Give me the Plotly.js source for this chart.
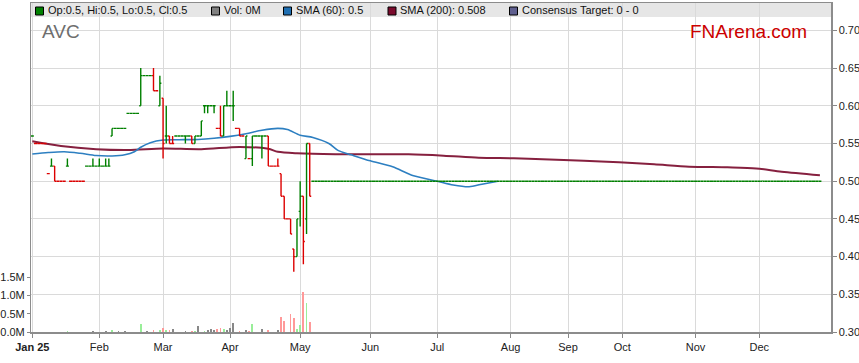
<!DOCTYPE html>
<html><head><meta charset="utf-8">
<script src="https://cdn.plot.ly/plotly-3.0.1.min.js"></script>
<style>html,body{margin:0;padding:0;background:#fff}#chart{width:859px;height:363px}</style>
</head><body><div id="chart"></div>
<script>
// ---- traded period (Jan 3 - May 6 2025) ----
const tradeDates = [
'2025-01-03','2025-01-06','2025-01-07','2025-01-08','2025-01-09','2025-01-10','2025-01-13','2025-01-14','2025-01-15','2025-01-16','2025-01-17',
'2025-01-20','2025-01-21','2025-01-22','2025-01-23','2025-01-24','2025-01-27','2025-01-28','2025-01-29','2025-01-30','2025-01-31',
'2025-02-03','2025-02-04','2025-02-05','2025-02-06','2025-02-07','2025-02-10','2025-02-11','2025-02-12','2025-02-13','2025-02-14',
'2025-02-17','2025-02-18','2025-02-19','2025-02-20','2025-02-21','2025-02-24','2025-02-25','2025-02-26','2025-02-27','2025-02-28',
'2025-03-03','2025-03-04','2025-03-05','2025-03-06','2025-03-07','2025-03-10','2025-03-11','2025-03-12','2025-03-13','2025-03-14',
'2025-03-17','2025-03-18','2025-03-19','2025-03-20','2025-03-21','2025-03-24','2025-03-25','2025-03-26','2025-03-27','2025-03-28',
'2025-03-31','2025-04-01','2025-04-02','2025-04-03','2025-04-04','2025-04-07','2025-04-08','2025-04-09','2025-04-10','2025-04-11',
'2025-04-14','2025-04-15','2025-04-16','2025-04-17','2025-04-18','2025-04-21','2025-04-22','2025-04-23','2025-04-24','2025-04-25',
'2025-04-28','2025-04-29','2025-04-30','2025-05-01','2025-05-02','2025-05-05','2025-05-06'];
const openP = [
0.56,0.55,0.55,0.55,0.55,0.51,0.52,0.52,0.50,0.50,0.50,
0.52,0.50,0.50,0.50,0.50,0.50,0.52,0.52,0.52,0.52,
0.52,0.52,0.52,0.52,0.56,0.57,0.57,0.57,0.57,0.59,
0.59,0.59,0.59,0.60,0.64,0.64,0.64,0.64,0.62,0.60,
0.61,0.56,0.56,0.55,0.56,0.56,0.56,0.56,0.56,0.56,
0.55,0.56,0.56,0.60,0.60,0.60,0.60,0.57,0.57,0.56,
0.60,0.60,0.60,0.57,0.57,0.56,0.53,0.53,0.53,0.56,
0.56,0.56,0.56,0.56,0.52,0.52,0.52,0.51,0.48,0.45,
0.45,0.41,0.40,0.46,0.48,0.45,0.55];
const highP = [
0.56,0.55,0.55,0.55,0.55,0.51,0.53,0.52,0.50,0.50,0.50,
0.53,0.50,0.50,0.50,0.50,0.50,0.52,0.52,0.53,0.52,
0.53,0.52,0.53,0.53,0.57,0.57,0.57,0.57,0.57,0.59,
0.59,0.59,0.59,0.65,0.64,0.64,0.64,0.65,0.62,0.64,
0.61,0.60,0.56,0.56,0.56,0.56,0.56,0.56,0.56,0.56,
0.56,0.56,0.58,0.60,0.60,0.60,0.60,0.57,0.60,0.60,
0.62,0.60,0.62,0.57,0.57,0.56,0.56,0.53,0.56,0.56,
0.56,0.56,0.56,0.56,0.52,0.52,0.53,0.51,0.48,0.45,
0.45,0.41,0.45,0.50,0.48,0.55,0.55];
const lowP = [
0.56,0.55,0.55,0.55,0.55,0.51,0.52,0.50,0.50,0.50,0.50,
0.52,0.50,0.50,0.50,0.50,0.50,0.52,0.52,0.52,0.52,
0.52,0.52,0.52,0.52,0.56,0.57,0.57,0.57,0.57,0.59,
0.59,0.59,0.59,0.60,0.64,0.64,0.64,0.62,0.62,0.60,
0.53,0.55,0.55,0.55,0.56,0.56,0.56,0.55,0.56,0.55,
0.55,0.56,0.56,0.59,0.59,0.60,0.59,0.57,0.56,0.56,
0.60,0.60,0.58,0.57,0.56,0.56,0.53,0.53,0.52,0.56,
0.56,0.53,0.56,0.52,0.52,0.52,0.52,0.48,0.45,0.45,
0.43,0.38,0.40,0.44,0.39,0.43,0.48];
const closeP = [
0.56,0.55,0.55,0.55,0.55,0.51,0.52,0.50,0.50,0.50,0.50,
0.52,0.50,0.50,0.50,0.50,0.50,0.52,0.52,0.52,0.52,
0.52,0.52,0.52,0.52,0.57,0.57,0.57,0.57,0.57,0.59,
0.59,0.59,0.59,0.64,0.64,0.64,0.64,0.62,0.62,0.63,
0.55,0.56,0.55,0.55,0.56,0.56,0.56,0.56,0.56,0.55,
0.56,0.56,0.58,0.60,0.60,0.60,0.60,0.57,0.56,0.60,
0.60,0.60,0.60,0.57,0.56,0.56,0.56,0.53,0.56,0.56,
0.56,0.56,0.56,0.52,0.52,0.52,0.52,0.48,0.45,0.45,
0.43,0.40,0.45,0.48,0.42,0.55,0.48];
const volumeM = [
0,0,0,0,0,0,0,0,0,0,0,
0.02,0,0,0,0,0,0,0,0.03,0,
0,0,0.03,0,0.05,0,0.03,0,0.03,0,
0,0,0,0.22,0,0.03,0,0.06,0,0.06,
0.11,0.06,0.06,0.09,0,0,0,0.03,0,0.03,
0.03,0.17,0,0.03,0.06,0.08,0.06,0.08,0.11,0.08,
0.06,0.11,0.25,0,0.03,0,0.06,0.03,0.22,0,
0,0.08,0,0.06,0,0,0.06,0.40,0.30,0,
0.48,0.38,0.08,0.18,1.10,0.78,0.27];

// ---- no-trade period (price unchanged at 0.50) ----
const flatDates = [
'2025-05-07','2025-05-08','2025-05-09','2025-05-12','2025-05-13','2025-05-14','2025-05-15','2025-05-16','2025-05-19','2025-05-20','2025-05-21','2025-05-22','2025-05-23','2025-05-26','2025-05-27','2025-05-28','2025-05-29','2025-05-30',
'2025-06-02','2025-06-03','2025-06-04','2025-06-05','2025-06-06','2025-06-09','2025-06-10','2025-06-11','2025-06-12','2025-06-13','2025-06-16','2025-06-17','2025-06-18','2025-06-19','2025-06-20','2025-06-23','2025-06-24','2025-06-25','2025-06-26','2025-06-27','2025-06-30',
'2025-07-01','2025-07-02','2025-07-03','2025-07-04','2025-07-07','2025-07-08','2025-07-09','2025-07-10','2025-07-11','2025-07-14','2025-07-15','2025-07-16','2025-07-17','2025-07-18','2025-07-21','2025-07-22','2025-07-23','2025-07-24','2025-07-25','2025-07-28','2025-07-29','2025-07-30','2025-07-31',
'2025-08-01','2025-08-04','2025-08-05','2025-08-06','2025-08-07','2025-08-08','2025-08-11','2025-08-12','2025-08-18','2025-08-19','2025-08-20','2025-08-21','2025-08-22','2025-08-25','2025-08-26','2025-08-27','2025-08-28','2025-08-29',
'2025-09-01','2025-09-02','2025-09-03','2025-09-04','2025-09-05','2025-09-08','2025-09-09','2025-09-10','2025-09-11','2025-09-12','2025-09-22','2025-09-23','2025-09-24','2025-09-25','2025-09-26','2025-09-29','2025-09-30',
'2025-10-01','2025-10-02','2025-10-03','2025-10-06','2025-10-07','2025-10-08','2025-10-09','2025-10-10','2025-10-13','2025-10-14','2025-10-15','2025-10-16','2025-10-17','2025-10-20','2025-10-21','2025-10-22','2025-10-23','2025-10-24','2025-10-27','2025-10-28','2025-10-29','2025-10-30','2025-10-31',
'2025-11-03','2025-11-04','2025-11-05','2025-11-06','2025-11-07','2025-11-10','2025-11-11','2025-11-12','2025-11-13','2025-11-14','2025-11-17','2025-11-18','2025-11-19','2025-11-20','2025-11-21','2025-11-24','2025-11-25','2025-11-26','2025-11-27','2025-11-28',
'2025-12-01','2025-12-02','2025-12-03','2025-12-04','2025-12-05','2025-12-08','2025-12-09','2025-12-10','2025-12-11','2025-12-12','2025-12-15','2025-12-16','2025-12-17','2025-12-18','2025-12-19','2025-12-22','2025-12-23','2025-12-24','2025-12-25','2025-12-26'];
const flatPrice = [
0.5,0.5,0.5,0.5,0.5,0.5,0.5,0.5,0.5,0.5,0.5,0.5,0.5,0.5,0.5,0.5,0.5,0.5,
0.5,0.5,0.5,0.5,0.5,0.5,0.5,0.5,0.5,0.5,0.5,0.5,0.5,0.5,0.5,0.5,0.5,0.5,0.5,0.5,0.5,
0.5,0.5,0.5,0.5,0.5,0.5,0.5,0.5,0.5,0.5,0.5,0.5,0.5,0.5,0.5,0.5,0.5,0.5,0.5,0.5,0.5,0.5,0.5,
0.5,0.5,0.5,0.5,0.5,0.5,0.5,0.5,0.5,0.5,0.5,0.5,0.5,0.5,0.5,0.5,0.5,0.5,
0.5,0.5,0.5,0.5,0.5,0.5,0.5,0.5,0.5,0.5,0.5,0.5,0.5,0.5,0.5,0.5,0.5,
0.5,0.5,0.5,0.5,0.5,0.5,0.5,0.5,0.5,0.5,0.5,0.5,0.5,0.5,0.5,0.5,0.5,0.5,0.5,0.5,0.5,0.5,0.5,
0.5,0.5,0.5,0.5,0.5,0.5,0.5,0.5,0.5,0.5,0.5,0.5,0.5,0.5,0.5,0.5,0.5,0.5,0.5,0.5,
0.5,0.5,0.5,0.5,0.5,0.5,0.5,0.5,0.5,0.5,0.5,0.5,0.5,0.5,0.5,0.5,0.5,0.5,0.5,0.5];

// days absent from the source feed (collapsed on the axis)
const missingDays = ['2025-08-13','2025-08-14','2025-08-15','2025-09-15','2025-09-16','2025-09-17','2025-09-18','2025-09-19'];

// ---- moving averages (SMA60 merges into the 0.50 price line after late July) ----
const sma60Dates = ['2025-01-03','2025-01-10','2025-01-17','2025-01-24','2025-01-31','2025-02-07','2025-02-13','2025-02-18','2025-02-20','2025-02-25','2025-03-03','2025-03-10','2025-03-18','2025-03-25','2025-04-01','2025-04-08','2025-04-15','2025-04-22','2025-04-25','2025-05-01','2025-05-07','2025-05-14','2025-05-19','2025-05-23','2025-06-02','2025-06-11','2025-06-19','2025-07-01','2025-07-08','2025-07-15','2025-07-21','2025-07-28'];
const sma60 = [0.536,0.538,0.539,0.537,0.534,0.5335,0.535,0.539,0.545,0.551,0.5546,0.555,0.5554,0.557,0.5595,0.563,0.5675,0.570,0.5685,0.561,0.558,0.550,0.5405,0.535,0.527,0.519,0.508,0.500,0.495,0.4927,0.496,0.500];
const sma200Dates = ['2025-01-03','2025-01-16','2025-01-31','2025-02-14','2025-03-03','2025-03-19','2025-04-04','2025-04-17','2025-04-22','2025-04-30','2025-05-16','2025-06-18','2025-07-03','2025-07-18','2025-08-04','2025-08-20','2025-09-08','2025-09-30','2025-10-15','2025-10-30','2025-11-17','2025-11-28','2025-12-10','2025-12-26'];
const sma200 = [0.553,0.5467,0.5425,0.5414,0.5433,0.5425,0.5455,0.543,0.539,0.537,0.5357,0.5357,0.5339,0.5312,0.5303,0.529,0.5272,0.525,0.5224,0.5193,0.5184,0.517,0.5126,0.508];

// ---- axis labels ----
const monthTicks = ['2025-01-03','2025-02-03','2025-03-03','2025-04-01','2025-05-01','2025-06-02','2025-07-01','2025-08-01','2025-09-01','2025-10-01','2025-11-03','2025-12-01'];
const monthLabels = ['<b>Jan 25</b>','Feb','Mar','Apr','May','Jun','Jul','Aug','Sep','Oct','Nov','Dec'];
const priceTicks = [0.30,0.35,0.40,0.45,0.50,0.55,0.60,0.65,0.70];
const volTicks = [0,0.5,1.0,1.5];
const volTickText = ['0.0M','0.5M','1.0M','1.5M'];

// ---- build traces ----
const allDates = tradeDates.concat(flatDates);
const allO = openP.concat(flatPrice), allH = highP.concat(flatPrice), allL = lowP.concat(flatPrice), allC = closeP.concat(flatPrice);
const volColors = closeP.map((c,i)=> i===0 ? '#888888' : (c>closeP[i-1] ? '#99ee99' : (c<closeP[i-1] ? '#ff9999' : '#888888')));

const traces = [
  {type:'scatter', mode:'lines', x:sma200Dates, y:sma200, line:{color:'#86203f', width:2, shape:'spline', smoothing:0.8}, hoverinfo:'skip', xaxis:'x', yaxis:'y'},
  {type:'scatter', mode:'lines', x:sma60Dates, y:sma60, line:{color:'#2d7fc1', width:1.6, shape:'spline', smoothing:0.8}, hoverinfo:'skip', xaxis:'x', yaxis:'y'},
  {type:'bar', x:tradeDates, y:volumeM, marker:{color:volColors, line:{width:0}}, width:0.55*86400000, hoverinfo:'skip', xaxis:'x', yaxis:'y2'},
  {type:'ohlc', x:allDates, open:allO, high:allH, low:allL, close:allC, tickwidth:0.47,
   increasing:{line:{color:'#008000', width:1.4}}, decreasing:{line:{color:'#dd0000', width:1.4}}, hoverinfo:'skip', xaxis:'x', yaxis:'y3'}
];

const W = 800, H = 329, L = 31, T = 3;
const px = v => (v - L) / W;
const py = v => 1 - (v - T) / H;
const priceRange = [0.30, 0.30 + H/754];

const lastIdx = allC.length - 1;
const legendItems = [
  {x:35.5, color:'#008000', text:'Op:'+allO[lastIdx]+', Hi:'+allH[lastIdx]+', Lo:'+allL[lastIdx]+', Cl:'+allC[lastIdx]},
  {x:211.5, color:'#808080', text:'Vol: 0M'},
  {x:283.5, color:'#1f6fb2', text:'SMA (60): 0.5'},
  {x:388, color:'#7a0a2c', text:'SMA (200): '+sma200[sma200.length-1]},
  {x:509.5, color:'#5f5f8f', text:'Consensus Target: 0 - 0'}
];

const shapes = [{type:'rect', xref:'paper', yref:'paper', x0:0, x1:1, y0:py(17), y1:1, fillcolor:'#e6e6e6', line:{width:0}, layer:'below'}];
const annotations = [];
legendItems.forEach(it => {
  shapes.push({type:'rect', xref:'paper', yref:'paper', x0:px(it.x), x1:px(it.x+8), y0:py(15), y1:py(7), fillcolor:it.color, line:{color:'#000', width:1}, layer:'above'});
  annotations.push({xref:'paper', yref:'paper', x:px(it.x+10), y:py(10.5), xanchor:'left', yanchor:'middle', text:it.text, showarrow:false, font:{size:11, color:'#111'}});
});
annotations.push({xref:'paper', yref:'paper', x:px(40), y:py(32), xanchor:'left', yanchor:'middle', text:'AVC', showarrow:false, font:{size:19, color:'#6e6e6e'}});
annotations.push({xref:'paper', yref:'paper', x:px(688), y:py(32), xanchor:'left', yanchor:'middle', text:'FNArena.com', showarrow:false, font:{size:19, color:'#cc0000'}});

const layout = {
  width:859, height:363,
  margin:{l:L, r:859-L-W, t:T, b:363-T-H, pad:0},
  paper_bgcolor:'#ffffff', plot_bgcolor:'#ffffff',
  showlegend:false,
  font:{family:'Liberation Sans, Arial, sans-serif', size:11, color:'#222'},
  xaxis:{type:'date', range:['2025-01-02 14:00','2025-12-31 11:30'],
    rangebreaks:[{bounds:['sat','mon']},{values:missingDays}],
    tickmode:'array', tickvals:monthTicks, ticktext:monthLabels,
    showgrid:true, gridcolor:'#dadada', gridwidth:1,
    ticks:'outside', ticklen:4, tickcolor:'#888',
    showline:true, linecolor:'#8c8c8c', linewidth:1.5, mirror:true,
    zeroline:false, rangeslider:{visible:false}, fixedrange:true,
    tickfont:{size:11, color:'#222'}},
  yaxis:{side:'right', range:priceRange, tickmode:'array', tickvals:priceTicks, tickformat:'.2f',
    showgrid:true, gridcolor:'#dadada', gridwidth:1,
    ticks:'outside', ticklen:4, tickcolor:'#888',
    showline:true, linecolor:'#8c8c8c', linewidth:1.5, mirror:true,
    zeroline:false, fixedrange:true, tickfont:{size:11, color:'#222'}},
  yaxis2:{overlaying:'y', side:'left', range:[0, H/36.6], tickmode:'array', tickvals:volTicks, ticktext:volTickText,
    showgrid:false, ticks:'outside', ticklen:3, tickcolor:'#888', showline:false, zeroline:false, fixedrange:true,
    tickfont:{size:11, color:'#222'}},
  yaxis3:{overlaying:'y', side:'right', range:priceRange, visible:false, showgrid:false, zeroline:false, fixedrange:true},
  shapes:shapes,
  annotations:annotations,
  bargap:0
};

Plotly.newPlot('chart', traces, layout, {displayModeBar:false, staticPlot:true});
</script>
</body></html>
